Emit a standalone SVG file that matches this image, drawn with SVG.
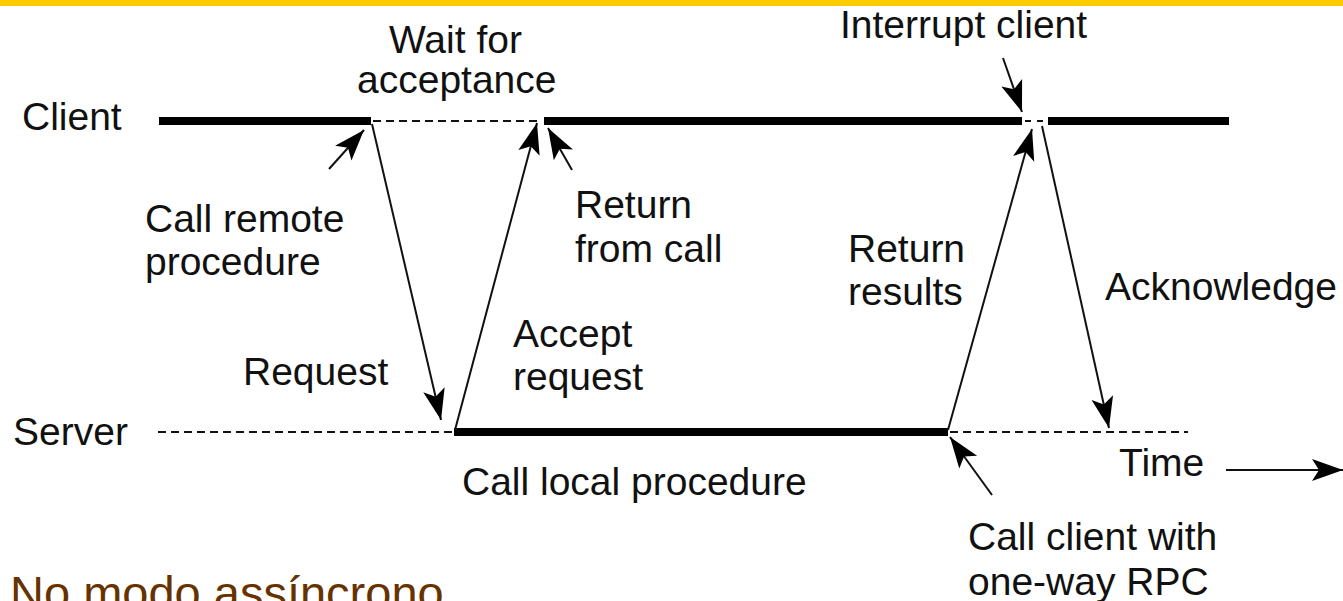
<svg xmlns="http://www.w3.org/2000/svg" width="1343" height="601" viewBox="0 0 1343 601">
  <style>
    .lbl { font-family: "Liberation Sans", Arial, sans-serif; font-size: 39px; fill: #111; }
    .title { font-family: "Liberation Sans", Arial, sans-serif; font-size: 47px; fill: #663300; }
    .busy { stroke: #000; stroke-width: 8; fill: none; }
    .idle { stroke: #111; stroke-width: 2; stroke-dasharray: 8 5; fill: none; }
    .msg { stroke: #111; stroke-width: 2; fill: none; marker-end: url(#head); }
  </style>
  <defs>
    <marker id="head" markerUnits="userSpaceOnUse" markerWidth="34" markerHeight="26" viewBox="-32 -12 34 24" refX="0" refY="0" orient="auto">
      <path d="M0,0 L-31,-11 L-24,0 L-31,11 Z" fill="#000"/>
    </marker>
  </defs>

  <rect x="0" y="0" width="1343" height="601" fill="#fff"/>
  <rect x="0" y="0" width="1343" height="6" fill="#ffcc00"/>

  <!-- client timeline -->
  <g id="client-line">
    <line class="busy" x1="159" y1="121" x2="371" y2="121"/>
    <line class="idle" x1="373" y1="121" x2="538" y2="121"/>
    <line class="busy" x1="544" y1="121" x2="1022" y2="121"/>
    <line class="idle" x1="1025" y1="121" x2="1046" y2="121" style="stroke-dasharray: 6 6"/>
    <line class="busy" x1="1048" y1="121" x2="1229" y2="121"/>
  </g>

  <!-- server timeline -->
  <g id="server-line">
    <line class="idle" x1="158" y1="432" x2="452" y2="432"/>
    <line class="busy" x1="454" y1="432" x2="948" y2="432"/>
    <line class="idle" x1="950" y1="432" x2="1188" y2="432"/>
  </g>

  <!-- messages and pointers -->
  <g id="connectors">
    <line class="msg" x1="372" y1="124" x2="441" y2="420"/>
    <line class="msg" x1="455" y1="430" x2="537" y2="123"/>
    <line class="msg" x1="948" y1="430" x2="1032" y2="129"/>
    <line class="msg" x1="1042" y1="126" x2="1109" y2="428"/>
    <line class="msg" x1="329" y1="169" x2="364" y2="130"/>
    <line class="msg" x1="572" y1="170" x2="548" y2="128"/>
    <line class="msg" x1="1003" y1="58" x2="1022" y2="112"/>
    <line class="msg" x1="992" y1="495" x2="950" y2="437"/>
    <line class="msg" x1="1226" y1="470" x2="1343" y2="470"/>
  </g>

  <g id="labels">
    <text class="lbl" x="22" y="130">Client</text>
    <text class="lbl" x="13" y="445">Server</text>
    <text class="lbl" x="389" y="53">Wait for</text>
    <text class="lbl" x="357" y="93">acceptance</text>
    <text class="lbl" x="840" y="38">Interrupt client</text>
    <text class="lbl" x="145" y="232">Call remote</text>
    <text class="lbl" x="145" y="275">procedure</text>
    <text class="lbl" x="575" y="218">Return</text>
    <text class="lbl" x="575" y="262">from call</text>
    <text class="lbl" x="848" y="262">Return</text>
    <text class="lbl" x="848" y="305">results</text>
    <text class="lbl" x="1105" y="300">Acknowledge</text>
    <text class="lbl" x="513" y="347">Accept</text>
    <text class="lbl" x="513" y="390">request</text>
    <text class="lbl" x="243" y="385">Request</text>
    <text class="lbl" x="462" y="495">Call local procedure</text>
    <text class="lbl" x="1119" y="476">Time</text>
    <text class="lbl" x="968" y="550">Call client with</text>
    <text class="lbl" x="968" y="595">one-way RPC</text>
  </g>

  <text class="title" x="10" y="609">No modo assíncrono</text>
</svg>
